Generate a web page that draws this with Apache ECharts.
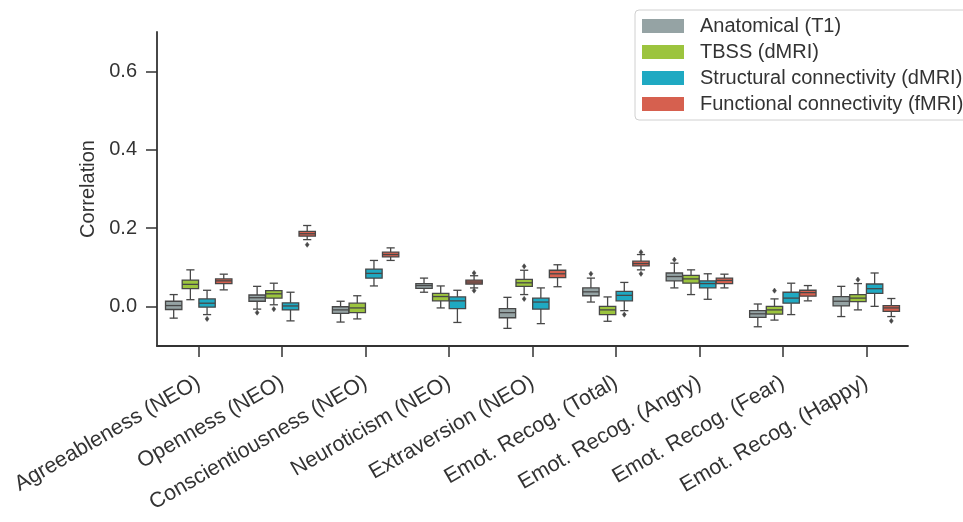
<!DOCTYPE html>
<html>
<head>
<meta charset="utf-8">
<script src="https://cdn.jsdelivr.net/npm/echarts@6/dist/echarts.min.js"></script>
<style>
html,body{margin:0;padding:0;background:#fff;}
#chart{width:963px;height:522px;}
</style>
</head>
<body>
<div id="chart"></div>
<script>
// ---- Data ----
const categories = [
  'Agreeableness (NEO)', 'Openness (NEO)', 'Conscientiousness (NEO)', 'Neuroticism (NEO)',
  'Extraversion (NEO)', 'Emot. Recog. (Total)', 'Emot. Recog. (Angry)', 'Emot. Recog. (Fear)', 'Emot. Recog. (Happy)'
];
const groupNames = ['Anatomical (T1)', 'TBSS (dMRI)', 'Structural connectivity (dMRI)', 'Functional connectivity (fMRI)'];

// [whiskerLow, q1, median, q3, whiskerHigh] per category
const anatomical = [
  [-0.029, -0.007, 0.003, 0.014, 0.031],
  [-0.006, 0.014, 0.023, 0.030, 0.052],
  [-0.039, -0.017, -0.008, 0.000, 0.014],
  [0.037, 0.047, 0.054, 0.059, 0.073],
  [-0.055, -0.028, -0.015, -0.005, 0.024],
  [0.012, 0.028, 0.038, 0.048, 0.073],
  [0.048, 0.066, 0.077, 0.086, 0.111],
  [-0.051, -0.027, -0.018, -0.010, 0.007],
  [-0.025, 0.002, 0.014, 0.026, 0.052]
];
const tbss = [
  [0.018, 0.046, 0.057, 0.068, 0.094],
  [0.005, 0.022, 0.033, 0.041, 0.060],
  [-0.031, -0.015, -0.003, 0.009, 0.028],
  [-0.003, 0.015, 0.026, 0.034, 0.053],
  [0.031, 0.052, 0.061, 0.070, 0.093],
  [-0.037, -0.020, -0.008, 0.001, 0.025],
  [0.031, 0.060, 0.071, 0.080, 0.094],
  [-0.034, -0.019, -0.008, 0.001, 0.020],
  [-0.008, 0.013, 0.022, 0.031, 0.059]
];
const structural = [
  [-0.020, -0.001, 0.009, 0.020, 0.042],
  [-0.036, -0.008, 0.002, 0.010, 0.037],
  [0.053, 0.073, 0.085, 0.096, 0.118],
  [-0.040, -0.005, 0.015, 0.025, 0.042],
  [-0.043, -0.006, 0.012, 0.022, 0.048],
  [-0.010, 0.015, 0.029, 0.039, 0.062],
  [0.019, 0.048, 0.059, 0.066, 0.084],
  [-0.020, 0.009, 0.022, 0.037, 0.060],
  [0.001, 0.034, 0.046, 0.058, 0.086]
];
const functional = [
  [0.043, 0.059, 0.066, 0.071, 0.083],
  [0.171, 0.180, 0.186, 0.192, 0.207],
  [0.118, 0.127, 0.133, 0.139, 0.150],
  [0.048, 0.058, 0.063, 0.068, 0.079],
  [0.051, 0.074, 0.084, 0.093, 0.107],
  [0.094, 0.104, 0.110, 0.116, 0.133],
  [0.048, 0.059, 0.067, 0.073, 0.083],
  [0.015, 0.027, 0.036, 0.042, 0.054],
  [-0.025, -0.012, -0.003, 0.003, 0.021]
];
// outliers: [categoryIndex, value]
const anatomicalOutliers = [[1, -0.015], [5, 0.084], [6, 0.120]];
const tbssOutliers = [[1, -0.006], [4, 0.103], [4, 0.020], [7, 0.041], [8, 0.069]];
const structuralOutliers = [[0, -0.031], [5, -0.020]];
const functionalOutliers = [[1, 0.158], [3, 0.086], [3, 0.041], [5, 0.139], [5, 0.084], [8, -0.036]];

const yTickValues = [0.0, 0.2, 0.4, 0.6];

// ---- Styling ----
const fills = ['#95a3a4', '#9cc43e', '#1fa9c2', '#d6604f'];
const lineColor = '#474747';
const FONT = 'Liberation Sans, Arial, sans-serif';

function boxRenderer(gi) {
  return function (params, api) {
    const cat = api.value(0);
    const band = api.size([1, 0])[0];
    const step = band * 0.8 / 4;
    const bw = step * 0.98;
    const cx = api.coord([cat, 0])[0] + (gi - 1.5) * step;
    const yl = api.coord([cat, api.value(1)])[1];
    const y1 = api.coord([cat, api.value(2)])[1];
    const ym = api.coord([cat, api.value(3)])[1];
    const y3 = api.coord([cat, api.value(4)])[1];
    const yh = api.coord([cat, api.value(5)])[1];
    const ls = { stroke: lineColor, lineWidth: 1.3, fill: null };
    const cap = bw / 4;
    return {
      type: 'group',
      children: [
        { type: 'line', shape: { x1: cx, y1: y3, x2: cx, y2: yh }, style: ls },
        { type: 'line', shape: { x1: cx, y1: y1, x2: cx, y2: yl }, style: ls },
        { type: 'line', shape: { x1: cx - cap, y1: yh, x2: cx + cap, y2: yh }, style: ls },
        { type: 'line', shape: { x1: cx - cap, y1: yl, x2: cx + cap, y2: yl }, style: ls },
        { type: 'rect', shape: { x: cx - bw / 2, y: y3, width: bw, height: y1 - y3 },
          style: { fill: fills[gi], stroke: lineColor, lineWidth: 1.3 } },
        { type: 'line', shape: { x1: cx - bw / 2, y1: ym, x2: cx + bw / 2, y2: ym }, style: ls }
      ]
    };
  };
}
function outlierRenderer(gi) {
  return function (params, api) {
    const cat = api.value(0);
    const band = api.size([1, 0])[0];
    const step = band * 0.8 / 4;
    const p = api.coord([cat, api.value(1)]);
    const cx = p[0] + (gi - 1.5) * step;
    const cy = p[1];
    const r = 2.6;
    return {
      type: 'polygon',
      shape: { points: [[cx, cy - r], [cx + r * 0.75, cy], [cx, cy + r], [cx - r * 0.75, cy]] },
      style: { fill: lineColor, stroke: lineColor, lineWidth: 0.5 }
    };
  };
}

const boxData = [anatomical, tbss, structural, functional];
const outlierData = [anatomicalOutliers, tbssOutliers, structuralOutliers, functionalOutliers];

const series = [];
groupNames.forEach(function (name, gi) {
  series.push({
    type: 'custom', name: name,
    itemStyle: { color: fills[gi] },
    renderItem: boxRenderer(gi),
    encode: { x: 0, y: [1, 2, 3, 4, 5] },
    data: boxData[gi].map(function (v, i) { return [i].concat(v); }),
    z: 2
  });
});
groupNames.forEach(function (name, gi) {
  series.push({
    type: 'custom', name: name,
    itemStyle: { color: fills[gi] },
    renderItem: outlierRenderer(gi),
    encode: { x: 0, y: 1 },
    data: outlierData[gi],
    z: 3
  });
});

const chart = echarts.init(document.getElementById('chart'), null, { renderer: 'canvas' });
chart.setOption({
  animation: false,
  backgroundColor: '#ffffff',
  textStyle: { fontFamily: FONT },
  grid: { left: 157, right: 55, top: 32, bottom: 176, containLabel: false, outerBoundsMode: 'none' },
  legend: {
    left: 635, top: 10,
    orient: 'vertical',
    data: groupNames.map(function (n, gi) {
      return { name: n, icon: 'rect', itemStyle: { color: fills[gi], borderWidth: 0 } };
    }),
    itemWidth: 42, itemHeight: 14, itemGap: 6,
    padding: [6, 10, 6, 7],
    borderColor: '#d0d0d0', borderWidth: 1, borderRadius: 4,
    backgroundColor: '#ffffff',
    textStyle: { fontFamily: FONT, fontSize: 20, color: '#333', padding: [0, 0, 0, 11], lineHeight: 20 }
  },
  xAxis: {
    type: 'category',
    data: categories,
    axisLine: { show: true, onZero: false, lineStyle: { color: '#333', width: 1.8 } },
    axisTick: { show: true, alignWithLabel: true, length: 11, lineStyle: { color: '#333', width: 1.5 } },
    axisLabel: { rotate: 30, margin: 35, fontSize: 21.5, color: '#333', fontFamily: FONT, interval: 0 },
    splitLine: { show: false }
  },
  yAxis: {
    type: 'value',
    min: -0.1, max: 0.7,
    name: 'Correlation',
    nameLocation: 'middle',
    nameGap: 58,
    nameTextStyle: { fontSize: 20, color: '#333', fontFamily: FONT },
    axisLine: { show: true, onZero: false, lineStyle: { color: '#333', width: 1.8 } },
    axisTick: { show: true, length: 11, customValues: yTickValues, lineStyle: { color: '#333', width: 1.5 } },
    axisLabel: { customValues: yTickValues, margin: 20, fontSize: 20, color: '#333', fontFamily: FONT,
      formatter: function (v) { return v.toFixed(1); } },
    splitLine: { show: false }
  },
  series: series
});
</script>
</body>
</html>
